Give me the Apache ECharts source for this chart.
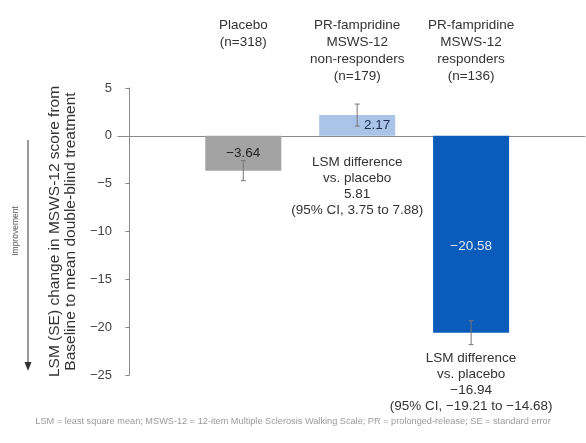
<!DOCTYPE html>
<html>
<head>
<meta charset="utf-8">
<script src="https://cdn.jsdelivr.net/npm/echarts@6/dist/echarts.min.js"></script>
<style>
  html, body { margin: 0; padding: 0; background: #fff; }
  #chart { width: 586px; height: 443px; }
</style>
</head>
<body>
<div id="chart"></div>
<script>
// groups and values
const groups = [
  'Placebo\n(n=318)',
  'PR-fampridine\nMSWS-12\nnon-responders\n(n=179)',
  'PR-fampridine\nMSWS-12\nresponders\n(n=136)'
]
const groupPos = [1, 2, 3]
const lsm = [-3.64, 2.17, -20.58]
const se = [1.05, 1.15, 1.25]
const barColors = ['#a3a3a3', '#a9c4e8', '#0b5bba']
const valueColors = ['#222222', '#1c2c55', '#dce9f8']
const valueOffsets = [[0, 0], [20, 0], [0, 12]]
const diffNotes = [
  '',
  'LSM difference\nvs. placebo\n5.81\n(95% CI, 3.75 to 7.88)',
  'LSM difference\nvs. placebo\n\u221216.94\n(95% CI, \u221219.21 to \u221214.68)'
]
const yMin = -25
const yMax = 5
const yStep = 5
const footnote = 'LSM = least square mean; MSWS-12 = 12-item Multiple Sclerosis Walking Scale; PR = prolonged-release; SE = standard error'

const font = 'Liberation Sans, Arial, sans-serif'
const minus = v => String(v).replace('-', '\u2212')

let chartDom = document.getElementById('chart')
let myChart = echarts.init(chartDom)

let option = {
  animation: false,
  textStyle: { fontFamily: font },
  title: {
    text: footnote,
    left: 'center',
    bottom: 12,
    textStyle: { fontSize: 9.2, fontWeight: 'normal', color: '#9a9a9a', fontFamily: font }
  },
  grid: { left: 118, right: 1, top: 88, bottom: 68 },
  xAxis: [
    {
      type: 'value',
      min: -0.1,
      max: 4,
      axisLine: { show: true, onZero: true, lineStyle: { color: '#8a8a8a', width: 1 } },
      axisTick: { show: false },
      axisLabel: { show: false },
      splitLine: { show: false }
    },
    {
      type: 'value',
      position: 'top',
      min: -0.1,
      max: 4,
      axisLine: { show: false, onZero: false },
      axisTick: { show: false },
      splitLine: { show: false },
      axisLabel: {
        customValues: groupPos,
        formatter: v => groups[groupPos.indexOf(v)] || '',
        verticalAlign: 'top',
        margin: 71,
        fontSize: 13.5,
        lineHeight: 17,
        color: '#333'
      }
    }
  ],
  yAxis: {
    type: 'value',
    min: yMin,
    max: yMax,
    interval: yStep,
    name: 'LSM (SE) change in MSWS-12 score from\nBaseline to mean double-blind treatment',
    nameLocation: 'middle',
    nameGap: 37,
    nameTextStyle: { fontSize: 15.5, lineHeight: 16, color: '#333' },
    axisLine: { show: true, lineStyle: { color: '#8a8a8a', width: 1 } },
    axisTick: { show: true, length: 4, lineStyle: { color: '#8a8a8a' } },
    axisLabel: { fontSize: 13, color: '#444', margin: 6, formatter: v => minus(v) },
    splitLine: { show: false }
  },
  graphic: [
    { type: 'line', shape: { x1: 28, y1: 140, x2: 28, y2: 363 }, style: { stroke: '#555', lineWidth: 1.2 } },
    { type: 'polygon', shape: { points: [[24.5, 362], [31.5, 362], [28, 371]] }, style: { fill: '#333' } },
    {
      type: 'text', x: 16, y: 231, rotation: Math.PI / 2,
      style: { text: 'Improvement', align: 'center', verticalAlign: 'middle', fontSize: 8.5, fill: '#555', fontFamily: font }
    }
  ],
  series: [
    {
      name: 'LSM',
      type: 'bar',
      barWidth: 76,
      barGap: '-100%',
      data: groupPos.map((p, i) => ({
        value: [p, lsm[i]],
        itemStyle: { color: barColors[i] },
        label: { color: valueColors[i], offset: valueOffsets[i] }
      })),
      label: {
        show: true,
        position: 'inside',
        fontSize: 13.5,
        formatter: p => minus(lsm[p.dataIndex])
      }
    },
    {
      name: 'Difference',
      type: 'bar',
      barWidth: 76,
      barGap: '-100%',
      silent: true,
      itemStyle: { color: 'rgba(0,0,0,0)' },
      data: groupPos.map((p, i) => [p, lsm[i]]),
      label: {
        show: true,
        position: 'bottom',
        distance: 18,
        fontSize: 13.5,
        lineHeight: 16,
        color: '#333',
        formatter: p => diffNotes[p.dataIndex]
      }
    },
    {
      name: 'SE',
      type: 'custom',
      data: groupPos.map((p, i) => [p, lsm[i], se[i]]),
      renderItem: (params, api) => {
        const x = api.value(0)
        const v = api.value(1)
        const e = api.value(2)
        const hi = api.coord([x, v + e])
        const lo = api.coord([x, v - e])
        const cap = 2.5
        const st = { stroke: '#777', lineWidth: 1 }
        return {
          type: 'group',
          children: [
            { type: 'line', shape: { x1: hi[0], y1: hi[1], x2: lo[0], y2: lo[1] }, style: st },
            { type: 'line', shape: { x1: hi[0] - cap, y1: hi[1], x2: hi[0] + cap, y2: hi[1] }, style: st },
            { type: 'line', shape: { x1: lo[0] - cap, y1: lo[1], x2: lo[0] + cap, y2: lo[1] }, style: st }
          ]
        }
      },
      z: 5
    }
  ]
}

myChart.setOption(option)
</script>
</body>
</html>
